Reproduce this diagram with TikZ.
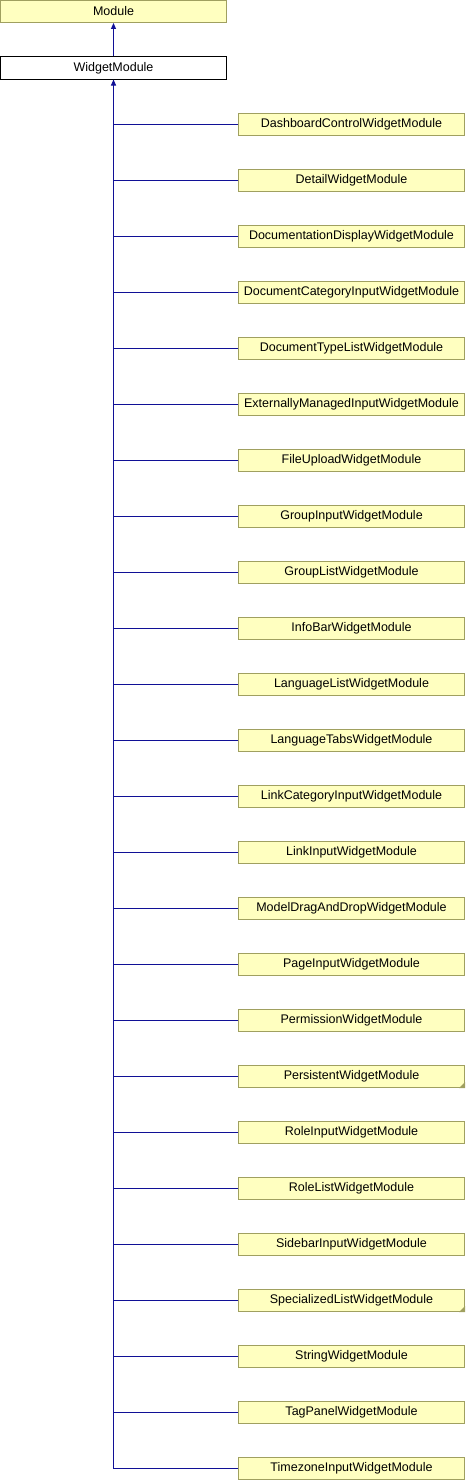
\documentclass[tikz,border=0pt]{standalone}
\usepackage{fontspec}
\setmainfont{Liberation Sans}
\usetikzlibrary{arrows.meta}
\definecolor{boxfill}{RGB}{255,255,192}
\definecolor{boxline}{RGB}{160,160,96}
\definecolor{edgeblue}{RGB}{16,16,150}
\tikzset{
  modbox/.style = {draw = boxline, fill = boxfill, line width = 1pt, minimum width = 226pt, minimum height = 22pt, inner sep = 0pt, font = \fontsize{12.5}{14}\selectfont},
  rootbox/.style = {modbox, draw = black, fill = white},
  inherit/.style = {edgeblue, line width = 1pt, -{Triangle[length=6pt, width=5pt]}},
  branch/.style = {edgeblue, line width = 1pt}
}
\begin{document}
\begin{tikzpicture}[x = 1pt, y = -1pt]
    %Parametri
    \pgfmathsetmacro{\cx}{351.5}
    \pgfmathsetmacro{\top}{124.5}
    \pgfmathsetmacro{\gap}{56}
    \useasboundingbox (0,0) rectangle (466,1480);
    % Classi base
    \node[modbox] (module) at (113.5,11.5) {Module};
    \node[rootbox] (widget) at (113.5,68) {WidgetModule};
    \draw[inherit] (widget) -- (module);
    % Classi derivate
    \foreach \name [count = \i from 0] in {DashboardControl, Detail, DocumentationDisplay, DocumentCategoryInput, DocumentTypeList, ExternallyManagedInput, FileUpload, GroupInput, GroupList, InfoBar, LanguageList, LanguageTabs, LinkCategoryInput, LinkInput, ModelDragAndDrop, PageInput, Permission, Persistent, RoleInput, RoleList, SidebarInput, SpecializedList, String, TagPanel, TimezoneInput}{
        \node[modbox] (c\i) at (\cx,{\top+\gap*\i}) {\name WidgetModule};
        \draw[branch] (c\i.west) -- (c\i.west -| widget.south);
    }
    % tronco verticale
    \draw[inherit] (c24.west -| widget.south) -- (widget.south);
    % angolo piegato
    \foreach \k in {17,21}{
        \fill[boxline] ([xshift = -6pt]c\k.south east) -- (c\k.south east) -- ([yshift = 6pt]c\k.south east) -- cycle;
    }
\end{tikzpicture}
\end{document}
